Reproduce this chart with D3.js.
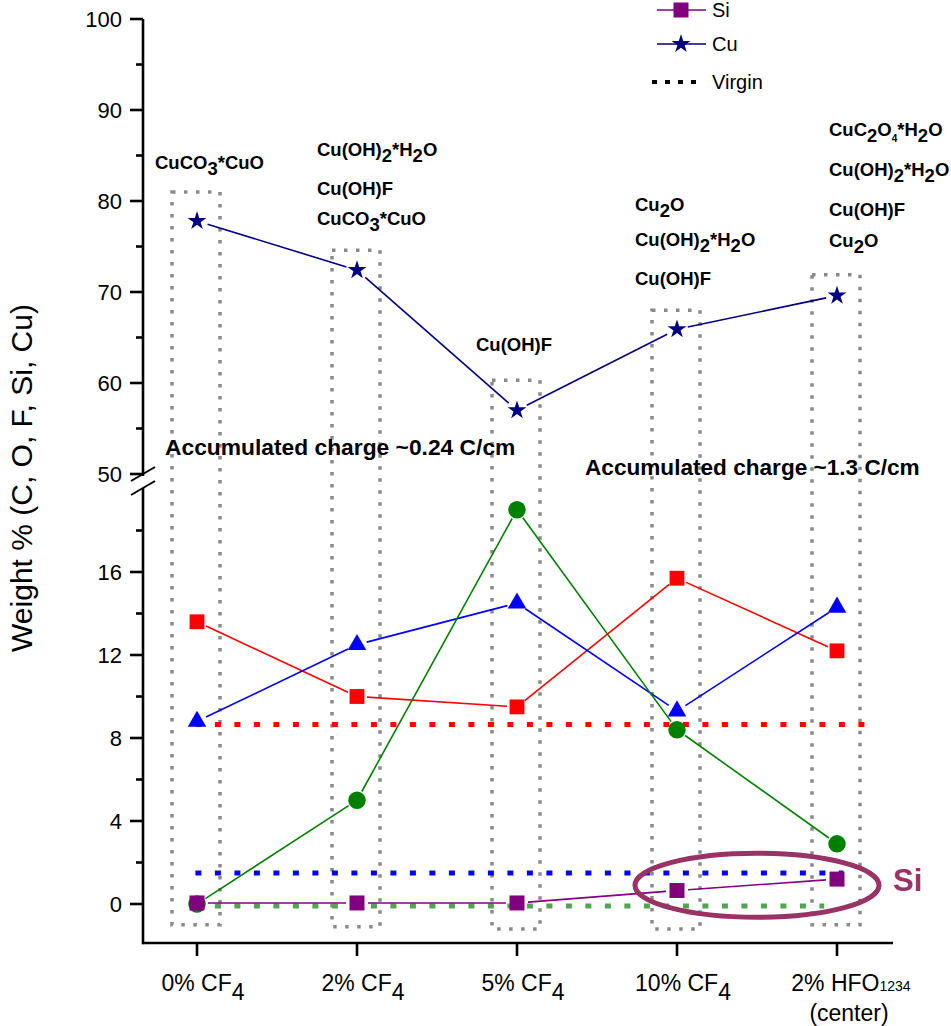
<!DOCTYPE html>
<html>
<head>
<meta charset="utf-8">
<script src="https://cdn.jsdelivr.net/npm/d3@7"></script>
<style>
  html, body { margin: 0; padding: 0; background: #fff; }
  svg { display: block; font-family: "Liberation Sans", Arial, sans-serif; }
</style>
</head>
<body>
<svg id="chart" width="951" height="1026"></svg>
<script>
// Sample conditions along the x axis
const categories = ["0% CF4", "2% CF4", "5% CF4", "10% CF4", "2% HFO1234"];

// Element weight percentages per condition
const copper   = [77.8, 72.4, 57.0, 65.9, 69.6];
const oxygen   = [13.6, 10.0, 9.5, 15.7, 12.2];
const carbon   = [8.8, 12.5, 14.5, 9.3, 14.3];
const fluorine = [0.0, 5.0, 19.0, 8.4, 2.9];
const silicon  = [0.05, 0.05, 0.05, 0.65, 1.2];

// Virgin (unexposed) reference levels
const virginO = 8.65;
const virginC = 1.5;
const virginF = -0.1;

// Dotted boxes grouping each condition (top on upper axis, bottom on lower axis)
const boxTop    = [81.0, 74.6, 60.3, 68.0, 71.9];
const boxBottom = [-1.0, -1.1, -1.2, -1.2, -1.0];

// Compounds identified for each condition
const compounds = [
  ["CuCO3*CuO"],
  ["Cu(OH)2*H2O", "Cu(OH)F", "CuCO3*CuO"],
  ["Cu(OH)F"],
  ["Cu2O", "Cu(OH)2*H2O", "Cu(OH)F"],
  ["CuC2O4*H2O", "Cu(OH)2*H2O", "Cu(OH)F", "Cu2O"]
];

// Tick values
const upperTicks = [50, 60, 70, 80, 90, 100];
const upperMinor = [55, 65, 75, 85, 95];
const lowerTicks = [0, 4, 8, 12, 16];
const lowerMinor = [2, 6, 10, 14, 18];

const svg = d3.select("#chart");

const x = d3.scalePoint().domain(d3.range(categories.length)).range([197, 837]);
const xLin = d3.scaleLinear().domain([0, 4]).range([197, 837]);
const yUp = d3.scaleLinear().domain([50, 100]).range([474, 19]);
const yLo = d3.scaleLinear().domain([0, 16]).range([904, 572]);

const axisX0 = 143, axisY0 = 943, axisXEnd = 893;

// ---- dotted grouping boxes ----
const boxG = svg.append("g");
categories.forEach((c, i) => {
  const cx = x(i) - 1, hw = 24;
  boxG.append("rect")
    .attr("x", cx - hw).attr("y", yUp(boxTop[i]))
    .attr("width", hw * 2).attr("height", yLo(boxBottom[i]) - yUp(boxTop[i]))
    .attr("fill", "none").attr("stroke", "#8a8a8a")
    .attr("stroke-width", 3.5).attr("stroke-dasharray", "3.5,8.5");
});

// ---- virgin reference lines ----
const virg = [
  { v: virginO, color: "#ff0000", end: 4.23 },
  { v: virginC, color: "#0000ff", end: 4.04 },
  { v: virginF, color: "#4ea64e", end: 3.92 }
];
virg.forEach(d => {
  svg.append("line")
    .attr("x1", xLin(-0.01)).attr("x2", xLin(d.end))
    .attr("y1", yLo(d.v)).attr("y2", yLo(d.v))
    .attr("stroke", d.color).attr("stroke-width", 5)
    .attr("stroke-dasharray", "6,13.5");
});

// ---- series ----
function drawSeries(values, yScale, color, symbol, size, gap) {
  const g = svg.append("g");
  const pts = values.map((v, i) => [x(i), yScale(v)]);
  for (let i = 0; i < pts.length - 1; i++) {
    const [x1, y1] = pts[i], [x2, y2] = pts[i + 1];
    const len = Math.hypot(x2 - x1, y2 - y1);
    const ux = (x2 - x1) / len, uy = (y2 - y1) / len;
    g.append("line")
      .attr("x1", x1 + ux * gap).attr("y1", y1 + uy * gap)
      .attr("x2", x2 - ux * gap).attr("y2", y2 - uy * gap)
      .attr("stroke", color).attr("stroke-width", 1.6);
  }
  g.selectAll("path.m").data(pts).join("path")
    .attr("class", "m")
    .attr("transform", d => `translate(${d[0]},${d[1]})`)
    .attr("d", d3.symbol().type(symbol).size(size))
    .attr("fill", color);
}

drawSeries(copper, yUp, "#000080", d3.symbolStar, 110, 11);
drawSeries(oxygen, yLo, "#ff0000", d3.symbolSquare, 220, 10);
drawSeries(carbon, yLo, "#0000ff", d3.symbolTriangle, 150, 10);
drawSeries(fluorine, yLo, "#008000", d3.symbolCircle, 240, 10);
drawSeries(silicon, yLo, "#800080", d3.symbolSquare, 225, 11);

// ---- axes ----
const axG = svg.append("g").attr("stroke", "#000").attr("stroke-width", 2.6);
axG.append("line").attr("x1", axisX0).attr("x2", axisX0).attr("y1", yUp(100)).attr("y2", 476);
axG.append("line").attr("x1", axisX0).attr("x2", axisX0).attr("y1", 488).attr("y2", axisY0 + 1.3);
axG.append("line").attr("x1", axisX0).attr("x2", axisXEnd).attr("y1", axisY0).attr("y2", axisY0);

// break marks
axG.append("line").attr("x1", 131).attr("y1", 481).attr("x2", 155).attr("y2", 467).attr("stroke-width", 2);
axG.append("line").attr("x1", 131).attr("y1", 495).attr("x2", 155).attr("y2", 481).attr("stroke-width", 2);

function yTicks(scale, major, minor) {
  major.forEach(v => {
    axG.append("line").attr("x1", axisX0 - 13).attr("x2", axisX0)
      .attr("y1", scale(v)).attr("y2", scale(v));
    svg.append("text").attr("x", 122).attr("y", scale(v))
      .attr("dy", "0.36em").attr("text-anchor", "end")
      .attr("font-size", 22).text(v);
  });
  minor.forEach(v => {
    axG.append("line").attr("x1", axisX0 - 7).attr("x2", axisX0)
      .attr("y1", scale(v)).attr("y2", scale(v));
  });
}
yTicks(yUp, upperTicks, upperMinor);
yTicks(yLo, lowerTicks, lowerMinor);

// x ticks and labels
categories.forEach((c, i) => {
  axG.append("line").attr("x1", x(i)).attr("x2", x(i))
    .attr("y1", axisY0).attr("y2", axisY0 + 13);
  const t = svg.append("text").attr("y", 991).attr("font-size", 23).attr("text-anchor", "middle");
  const m = c.match(/^(.*?)(\d+)$/);
  if (c.startsWith("2% HFO")) {
    t.attr("x", x(i) + 14);
    t.append("tspan").text("2% HFO");
    t.append("tspan").attr("font-size", 14).text("1234");
    svg.append("text").attr("x", x(i) + 12).attr("y", 1021).attr("font-size", 23)
      .attr("text-anchor", "middle").text("(center)");
  } else {
    t.attr("x", x(i) + 6);
    t.append("tspan").text(m[1]);
    t.append("tspan").attr("dy", 9).text(m[2]);
  }
});

// y axis title
svg.append("text")
  .attr("transform", "translate(32,478) rotate(-90)")
  .attr("text-anchor", "middle").attr("font-size", 30)
  .text("Weight % (C, O, F, Si, Cu)");

// ---- compound annotations ----
function chem(sel, formula) {
  // digits in a formula are written as subscripts
  const parts = formula.split(/(\d)/).filter(s => s.length);
  let lowered = false;
  parts.forEach(p => {
    if (/^\d$/.test(p)) {
      const small = (p === "4" && formula.startsWith("CuC2O4"));
      sel.append("tspan").attr("dy", lowered ? 0 : 6)
        .attr("font-size", small ? 10 : null).text(p);
      lowered = true;
    } else {
      sel.append("tspan").attr("dy", lowered ? -6 : 0).text(p);
      lowered = false;
    }
  });
}
const labelX = [155, 317, 476, 635, 829];
const labelY = [
  [169],
  [156, 195, 225],
  [351],
  [211, 246, 285],
  [136, 176, 216, 247]
];
compounds.forEach((list, i) => {
  list.forEach((f, j) => {
    const t = svg.append("text").attr("x", labelX[i]).attr("y", labelY[i][j])
      .attr("font-size", 18.5).attr("font-weight", "bold");
    chem(t, f);
  });
});

// accumulated charge notes
svg.append("text").attr("x", 165).attr("y", 455)
  .attr("font-size", 22.8).attr("font-weight", "bold")
  .text("Accumulated charge ~0.24 C/cm");
svg.append("text").attr("x", 585).attr("y", 475)
  .attr("font-size", 22.6).attr("font-weight", "bold")
  .text("Accumulated charge ~1.3 C/cm");

// highlight of the Si points
svg.append("ellipse")
  .attr("cx", xLin(3.5)).attr("cy", yLo(0.9))
  .attr("rx", 122).attr("ry", 32)
  .attr("fill", "none").attr("stroke", "#993366").attr("stroke-width", 5);
svg.append("text").attr("x", 893).attr("y", 891)
  .attr("font-size", 31).attr("font-weight", "bold").attr("fill", "#993366")
  .text("Si");

// ---- legend ----
const leg = svg.append("g");
function legendRow(y, color, symbol, size, label) {
  leg.append("line").attr("x1", 657).attr("x2", 706).attr("y1", y).attr("y2", y)
    .attr("stroke", color).attr("stroke-width", 1.6);
  leg.append("path").attr("transform", `translate(681,${y})`)
    .attr("d", d3.symbol().type(symbol).size(size)).attr("fill", color);
  leg.append("text").attr("x", 712).attr("y", y).attr("dy", "0.36em")
    .attr("font-size", 20).text(label);
}
legendRow(10, "#800080", d3.symbolSquare, 225, "Si");
legendRow(44, "#000080", d3.symbolStar, 110, "Cu");
leg.append("line").attr("x1", 652).attr("x2", 698).attr("y1", 82).attr("y2", 82)
  .attr("stroke", "#000").attr("stroke-width", 4).attr("stroke-dasharray", "5,8");
leg.append("text").attr("x", 712).attr("y", 82).attr("dy", "0.36em")
  .attr("font-size", 20).text("Virgin");
</script>
</body>
</html>
